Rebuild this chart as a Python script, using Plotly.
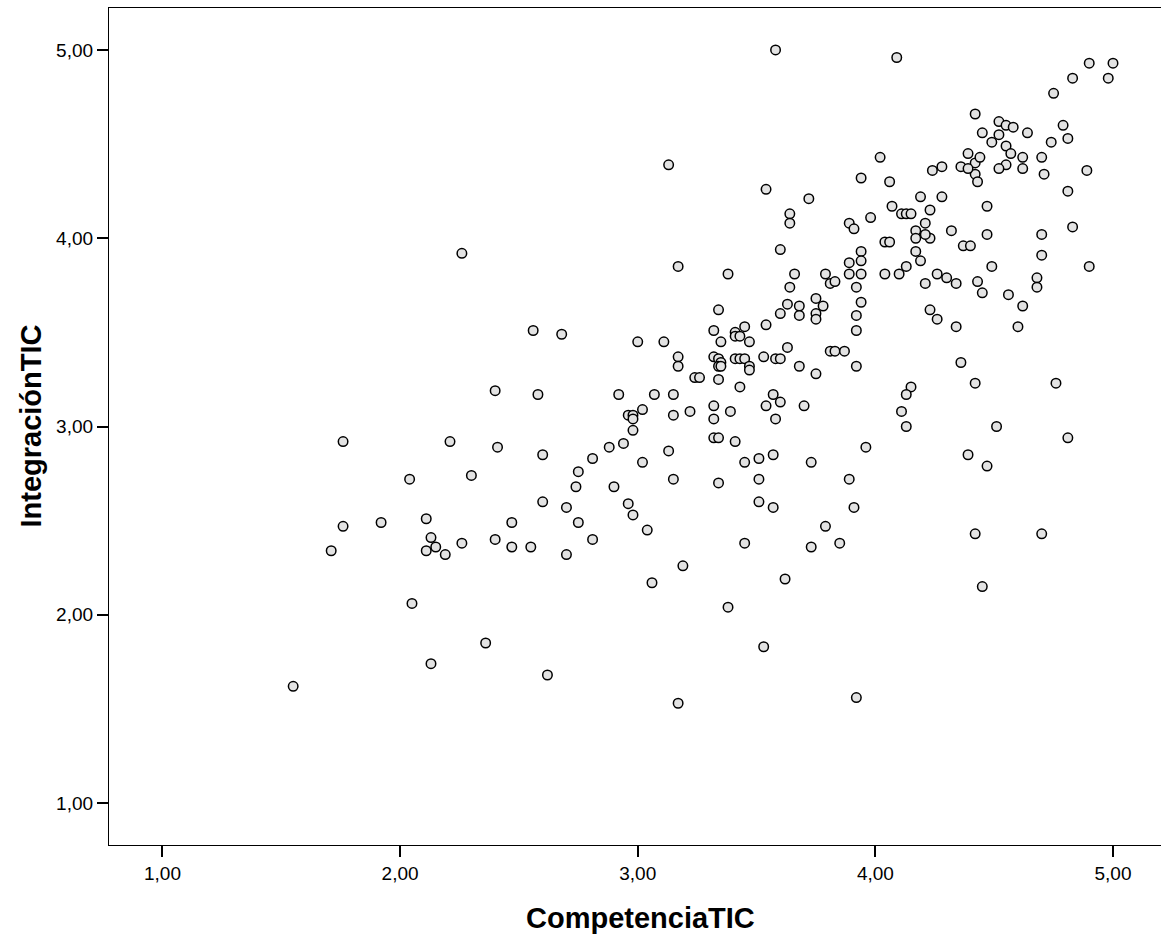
import plotly.graph_objects as go

competencia_tic = [
    2.40, 2.58, 1.76, 2.21, 2.41, 2.60, 2.04, 2.30, 2.60, 1.76,
    1.92, 2.11, 2.13, 2.15, 2.11, 2.19, 1.71, 2.26, 2.40, 2.47,
    2.47, 2.55, 2.05, 2.36, 2.13, 2.62, 1.55, 2.26, 2.56, 2.68,
    3.34, 3.32, 3.41, 3.45, 3.41, 3.43, 3.47, 3.35, 3.54, 3.60,
    3.63, 3.64, 3.00, 3.11, 3.17, 3.17, 3.24, 3.26, 3.32, 3.34,
    3.35, 3.34, 3.35, 3.41, 3.43, 3.45, 3.47, 3.47, 3.53, 3.58,
    3.60, 3.63, 3.34, 3.43, 2.92, 3.07, 3.15, 3.02, 2.96, 2.98,
    2.98, 2.98, 3.15, 3.22, 3.32, 3.32, 3.39, 3.57, 3.54, 3.60,
    3.58, 3.32, 3.34, 3.41, 2.94, 2.88, 2.81, 3.13, 3.02, 2.75,
    2.74, 2.90, 3.15, 3.34, 3.51, 3.57, 3.45, 3.51, 3.51, 3.57,
    2.70, 2.75, 2.96, 2.98, 3.04, 2.81, 2.70, 3.19, 3.06, 3.45,
    3.62, 3.38, 3.53, 3.17, 4.02, 3.94, 4.06, 4.24, 4.28, 4.36,
    4.39, 4.42, 4.42, 4.43, 3.54, 3.72, 3.64, 3.64, 4.19, 4.28,
    4.07, 4.11, 4.13, 4.15, 4.23, 3.98, 3.89, 3.91, 4.21, 4.17,
    4.17, 4.23, 4.32, 4.37, 4.40, 4.04, 4.06, 3.60, 3.94, 3.94,
    4.17, 4.19, 3.89, 4.13, 3.66, 3.79, 3.89, 3.94, 4.04, 4.10,
    4.26, 4.30, 4.34, 4.21, 4.43, 3.81, 3.83, 3.92, 3.75, 3.78,
    3.68, 3.68, 3.75, 3.75, 3.94, 3.92, 3.92, 4.23, 4.26, 4.34,
    3.68, 3.75, 3.81, 3.83, 3.87, 3.92, 4.36, 3.58, 4.09, 3.13,
    3.17, 3.38, 4.90, 5.00, 4.83, 4.98, 4.75, 4.42, 4.52, 4.55,
    4.58, 4.64, 4.45, 4.79, 4.81, 4.74, 4.52, 4.49, 4.55, 4.57,
    4.44, 4.39, 4.55, 4.52, 4.62, 4.62, 4.70, 4.71, 4.89, 4.81,
    4.47, 4.21, 4.47, 4.70, 4.83, 4.70, 4.49, 4.90, 4.45, 4.56,
    4.62, 4.68, 4.68, 4.60, 4.42, 4.76, 3.70, 4.15, 4.13, 4.11,
    4.13, 4.51, 4.81, 3.96, 4.39, 4.47, 3.73, 3.89, 3.91, 3.79,
    3.73, 3.85, 4.42, 4.70, 4.45, 3.92,
]

integracion_tic = [
    3.19, 3.17, 2.92, 2.92, 2.89, 2.85, 2.72, 2.74, 2.60, 2.47,
    2.49, 2.51, 2.41, 2.36, 2.34, 2.32, 2.34, 2.38, 2.40, 2.49,
    2.36, 2.36, 2.06, 1.85, 1.74, 1.68, 1.62, 3.92, 3.51, 3.49,
    3.62, 3.51, 3.50, 3.53, 3.48, 3.48, 3.45, 3.45, 3.54, 3.60,
    3.65, 3.74, 3.45, 3.45, 3.37, 3.32, 3.26, 3.26, 3.37, 3.36,
    3.34, 3.32, 3.32, 3.36, 3.36, 3.36, 3.32, 3.30, 3.37, 3.36,
    3.36, 3.42, 3.25, 3.21, 3.17, 3.17, 3.17, 3.09, 3.06, 3.06,
    3.04, 2.98, 3.06, 3.08, 3.11, 3.04, 3.08, 3.17, 3.11, 3.13,
    3.04, 2.94, 2.94, 2.92, 2.91, 2.89, 2.83, 2.87, 2.81, 2.76,
    2.68, 2.68, 2.72, 2.70, 2.83, 2.85, 2.81, 2.72, 2.60, 2.57,
    2.57, 2.49, 2.59, 2.53, 2.45, 2.40, 2.32, 2.26, 2.17, 2.38,
    2.19, 2.04, 1.83, 1.53, 4.43, 4.32, 4.30, 4.36, 4.38, 4.38,
    4.45, 4.40, 4.34, 4.30, 4.26, 4.21, 4.13, 4.08, 4.22, 4.22,
    4.17, 4.13, 4.13, 4.13, 4.15, 4.11, 4.08, 4.05, 4.08, 4.04,
    4.00, 4.00, 4.04, 3.96, 3.96, 3.98, 3.98, 3.94, 3.93, 3.88,
    3.93, 3.88, 3.87, 3.85, 3.81, 3.81, 3.81, 3.81, 3.81, 3.81,
    3.81, 3.79, 3.76, 3.76, 3.77, 3.76, 3.77, 3.74, 3.68, 3.64,
    3.64, 3.59, 3.60, 3.57, 3.66, 3.59, 3.51, 3.62, 3.57, 3.53,
    3.32, 3.28, 3.40, 3.40, 3.40, 3.32, 3.34, 5.00, 4.96, 4.39,
    3.85, 3.81, 4.93, 4.93, 4.85, 4.85, 4.77, 4.66, 4.62, 4.60,
    4.59, 4.56, 4.56, 4.60, 4.53, 4.51, 4.55, 4.51, 4.49, 4.45,
    4.43, 4.37, 4.39, 4.37, 4.43, 4.37, 4.43, 4.34, 4.36, 4.25,
    4.17, 4.02, 4.02, 4.02, 4.06, 3.91, 3.85, 3.85, 3.71, 3.70,
    3.64, 3.79, 3.74, 3.53, 3.23, 3.23, 3.11, 3.21, 3.17, 3.08,
    3.00, 3.00, 2.94, 2.89, 2.85, 2.79, 2.81, 2.72, 2.57, 2.47,
    2.36, 2.38, 2.43, 2.43, 2.15, 1.56,
]

tick_values = [1, 2, 3, 4, 5]
x_title = "CompetenciaTIC"
y_title = "IntegraciónTIC"

FONT = "Arial, 'Liberation Sans', Helvetica, sans-serif"

fig = go.Figure(
    go.Scatter(
        x=competencia_tic,
        y=integracion_tic,
        mode="markers",
        marker=dict(
            symbol="circle",
            size=9.5,
            color="#e3e3e3",
            line=dict(color="black", width=1.5),
        ),
        hoverinfo="x+y",
    )
)

axis_common = dict(
    showline=True,
    linecolor="black",
    linewidth=1.3,
    showgrid=False,
    zeroline=False,
    ticks="outside",
    ticklen=11,
    tickwidth=1.6,
    tickcolor="black",
    tickvals=tick_values,
    tickformat=".2f",
    tickfont=dict(family=FONT, size=19, color="black"),
)

# x axis mirrored draws the top frame line; the right frame lies beyond the view
fig.update_xaxes(range=[0.775, 5.202], mirror=True, **axis_common)
fig.update_yaxes(range=[0.777, 5.223], mirror=False, **axis_common)

fig.update_layout(
    width=1161,
    height=938,
    separators=",.",
    plot_bgcolor="white",
    paper_bgcolor="white",
    margin=dict(l=109, r=0, t=8, b=93),
    showlegend=False,
    font=dict(family=FONT, color="black"),
    annotations=[
        dict(
            text="<b>" + x_title + "</b>",
            xref="paper", yref="paper",
            x=0.5, y=0,
            xanchor="center", yanchor="middle",
            xshift=5,
            yshift=-73,
            showarrow=False,
            font=dict(family=FONT, size=29, color="black"),
        ),
        dict(
            text="<b>" + y_title + "</b>",
            xref="paper", yref="paper",
            x=0, y=0.5,
            xanchor="center", yanchor="middle",
            xshift=-79,
            textangle=-90,
            showarrow=False,
            font=dict(family=FONT, size=29, color="black"),
        ),
    ],
)

fig.write_html(
    "out.html",
    config={"responsive": False, "displayModeBar": False},
    post_script="document.body.style.margin='0px';",
)
